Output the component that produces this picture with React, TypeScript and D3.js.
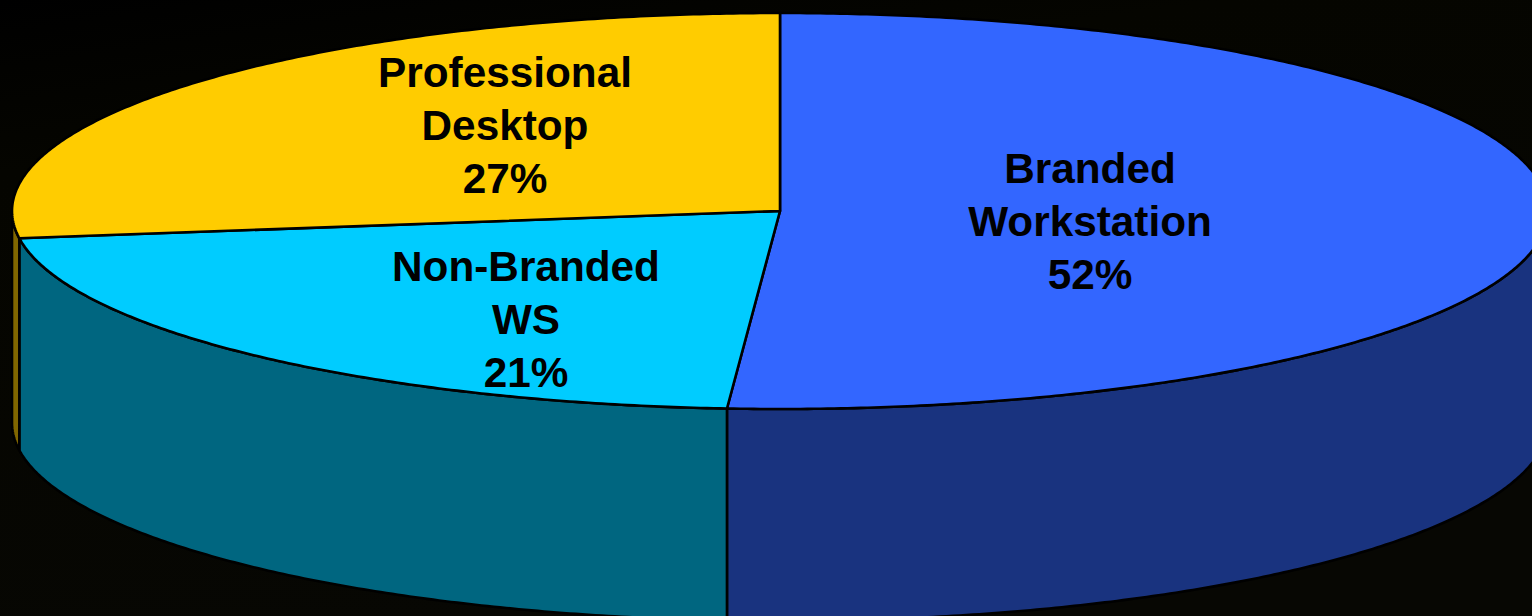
import React from "react";
import * as d3 from "d3";

// Printed labels
const categories = ["Branded Workstation", "Non-Branded WS", "Professional Desktop"];
const labelLines = [["Branded", "Workstation"], ["Non-Branded", "WS"], ["Professional", "Desktop"]];
const percents = [52, 21, 27];
const drawnShares = [51.1, 21.7, 27.2];
const topColors = ["#3366FF", "#00CCFF", "#FFCC00"];
const wallColors = ["#19337F", "#006680", "#806600"];
const labelCenters = [[1090, 183], [526, 281], [505, 87]];

const W = 1532, H = 616;
const cx = 780, cy = 211, rx = 768, ry = 198, depth = 212;
const LINE = 53;

const px = d3.scaleLinear().domain([-1, 1]).range([cx - rx, cx + rx]);
const py = d3.scaleLinear().domain([-1, 1]).range([cy - ry, cy + ry]);
const onRim = (a: number, dy = 0): [number, number] => [px(Math.sin(a)), py(-Math.cos(a)) + dy];
const line = d3.line<[number, number]>();
const STEP = Math.PI / 360;

const arcs = d3.pie<number>().sort(null).value((d) => d)(drawnShares);

function sampled(a0: number, a1: number, dy = 0): [number, number][] {
  const n = Math.max(2, Math.ceil((a1 - a0) / STEP));
  return d3.range(n + 1).map((i) => onRim(a0 + ((a1 - a0) * i) / n, dy));
}
function topPath(a0: number, a1: number) {
  return line([[cx, cy], ...sampled(a0, a1)]) + "Z";
}
function wallPath(a0: number, a1: number) {
  const s = Math.max(a0, Math.PI / 2), e = Math.min(a1, (3 * Math.PI) / 2);
  if (e <= s) return null;
  return line([...sampled(s, e), ...sampled(s, e, depth).reverse()]) + "Z";
}

export default function App() {
  return (
    <svg width={W} height={H} viewBox={`0 0 ${W} ${H}`}
      style={{ position: "absolute", left: 0, top: 0, display: "block" }}>
      <defs>
        <linearGradient id="bg" x1="0" y1="0" x2="0.35" y2="1">
          <stop offset="0" stopColor="#000000" />
          <stop offset="0.25" stopColor="#050500" />
          <stop offset="1" stopColor="#070703" />
        </linearGradient>
      </defs>
      <rect width={W} height={H} fill="url(#bg)" />
      <g stroke="#000" strokeWidth={2.6} strokeLinejoin="round">
        {arcs.map((d, i) => {
          const p = wallPath(d.startAngle, d.endAngle);
          return p ? <path key={categories[i]} d={p} fill={wallColors[i]} /> : null;
        })}
        {arcs.map((d, i) => (
          <path key={categories[i]} d={topPath(d.startAngle, d.endAngle)} fill={topColors[i]} />
        ))}
      </g>
      <g fontFamily="'Liberation Sans', Arial, sans-serif" fontWeight={700} fontSize={42.3}
        textAnchor="middle" fill="#000">
        {categories.map((c, i) => (
          <text key={c} x={labelCenters[i][0]} y={labelCenters[i][1]}>
            {[...labelLines[i], `${percents[i]}%`].map((t, j) => (
              <tspan key={j} x={labelCenters[i][0]} dy={j === 0 ? 0 : LINE}>{t}</tspan>
            ))}
          </text>
        ))}
      </g>
    </svg>
  );
}
